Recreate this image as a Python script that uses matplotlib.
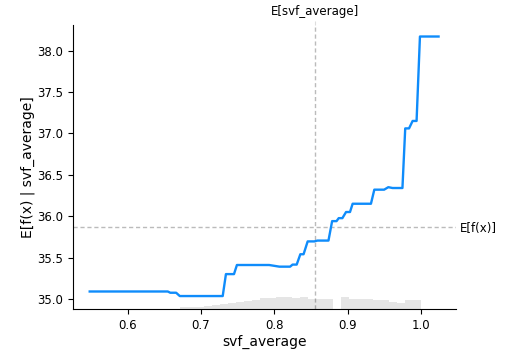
import numpy as np
import matplotlib
matplotlib.use("Agg")
import matplotlib.pyplot as plt

# partial dependence curve
x_vals = [0.548, 0.6546, 0.658, 0.666, 0.671, 0.7296, 0.734, 0.745, 0.749, 0.793,
          0.807, 0.8216, 0.825, 0.8306, 0.8356, 0.840, 0.8456, 0.8547, 0.859, 0.874,
          0.879, 0.885, 0.888, 0.893, 0.898, 0.9034, 0.907, 0.932, 0.9366, 0.950,
          0.9557, 0.9615, 0.975, 0.9788, 0.984, 0.9889, 0.9943, 0.9989, 1.0243]
y_vals = [35.09, 35.09, 35.075, 35.075, 35.035, 35.035, 35.30, 35.30, 35.41, 35.41,
          35.39, 35.39, 35.415, 35.415, 35.54, 35.54, 35.695, 35.695, 35.705, 35.705,
          35.94, 35.94, 35.976, 35.976, 36.05, 36.05, 36.15, 36.15, 36.32, 36.32,
          36.35, 36.34, 36.34, 37.06, 37.06, 37.15, 37.15, 38.17, 38.17]

# feature histogram
hist_start = 0.6707
hist_width = 0.011
hist_counts = [2, 1.5, 2, 3, 4, 4.5, 5.5, 6.5, 7.5, 9, 10.5, 11, 11.5, 12.3, 10.5,
               11.7, 10, 9.5, 10, 0, 11.7, 10, 10, 10, 9, 8.7, 7, 6, 8.7, 8.7]

expected_x = 0.8559
expected_fx = 35.871
feature_name = "svf_average"

fig = plt.figure(figsize=(5.06, 3.51), dpi=100)
ax = fig.add_axes([0.144, 0.12, 0.757, 0.809])

# histogram on a twin axis
ax_h = ax.twinx()
edges = hist_start + hist_width * np.arange(len(hist_counts))
ax_h.bar(edges, hist_counts, width=hist_width, align="edge", color="#000000", alpha=0.1, linewidth=0)
ax_h.set_ylim(0, 284)
ax_h.set_yticks([])
for s in ax_h.spines.values():
    s.set_visible(False)

ax.plot(x_vals, y_vals, color="#0f8cfb", lw=1.7, zorder=3)
ax.axhline(expected_fx, color="#bbbbbb", lw=1, ls=(0, (3, 2)), zorder=1)
ax.axvline(expected_x, color="#bbbbbb", lw=1, ls=(0, (3, 2)), zorder=1)

ax.set_xlim(0.525, 1.048)
ax.set_ylim(34.88, 38.31)
ax.set_xticks([0.6, 0.7, 0.8, 0.9, 1.0])
ax.set_yticks([35.0, 35.5, 36.0, 36.5, 37.0, 37.5, 38.0])
ax.tick_params(labelsize=8.5)
ax.set_xlabel(feature_name, fontsize=10, labelpad=2)
ax.set_ylabel("E[f(x) | " + feature_name + "]", fontsize=10, labelpad=1.5)
ax.spines["top"].set_visible(False)
ax.spines["right"].set_visible(False)

# labels for the expected values
ax_t = ax.twiny()
ax_t.set_xlim(ax.get_xlim())
ax_t.set_xticks([expected_x])
ax_t.set_xticklabels(["E[" + feature_name + "]"], fontsize=8.5)
ax_t.tick_params(axis="x", length=3, color="#dddddd", pad=2)
for s in ax_t.spines.values():
    s.set_visible(False)

ax_r = ax.twinx()
ax_r.set_ylim(ax.get_ylim())
ax_r.set_yticks([expected_fx])
ax_r.set_yticklabels(["E[f(x)]"], fontsize=8.5)
ax_r.tick_params(axis="y", length=0, pad=3)
for s in ax_r.spines.values():
    s.set_visible(False)

fig.savefig("out.png", dpi=100)
